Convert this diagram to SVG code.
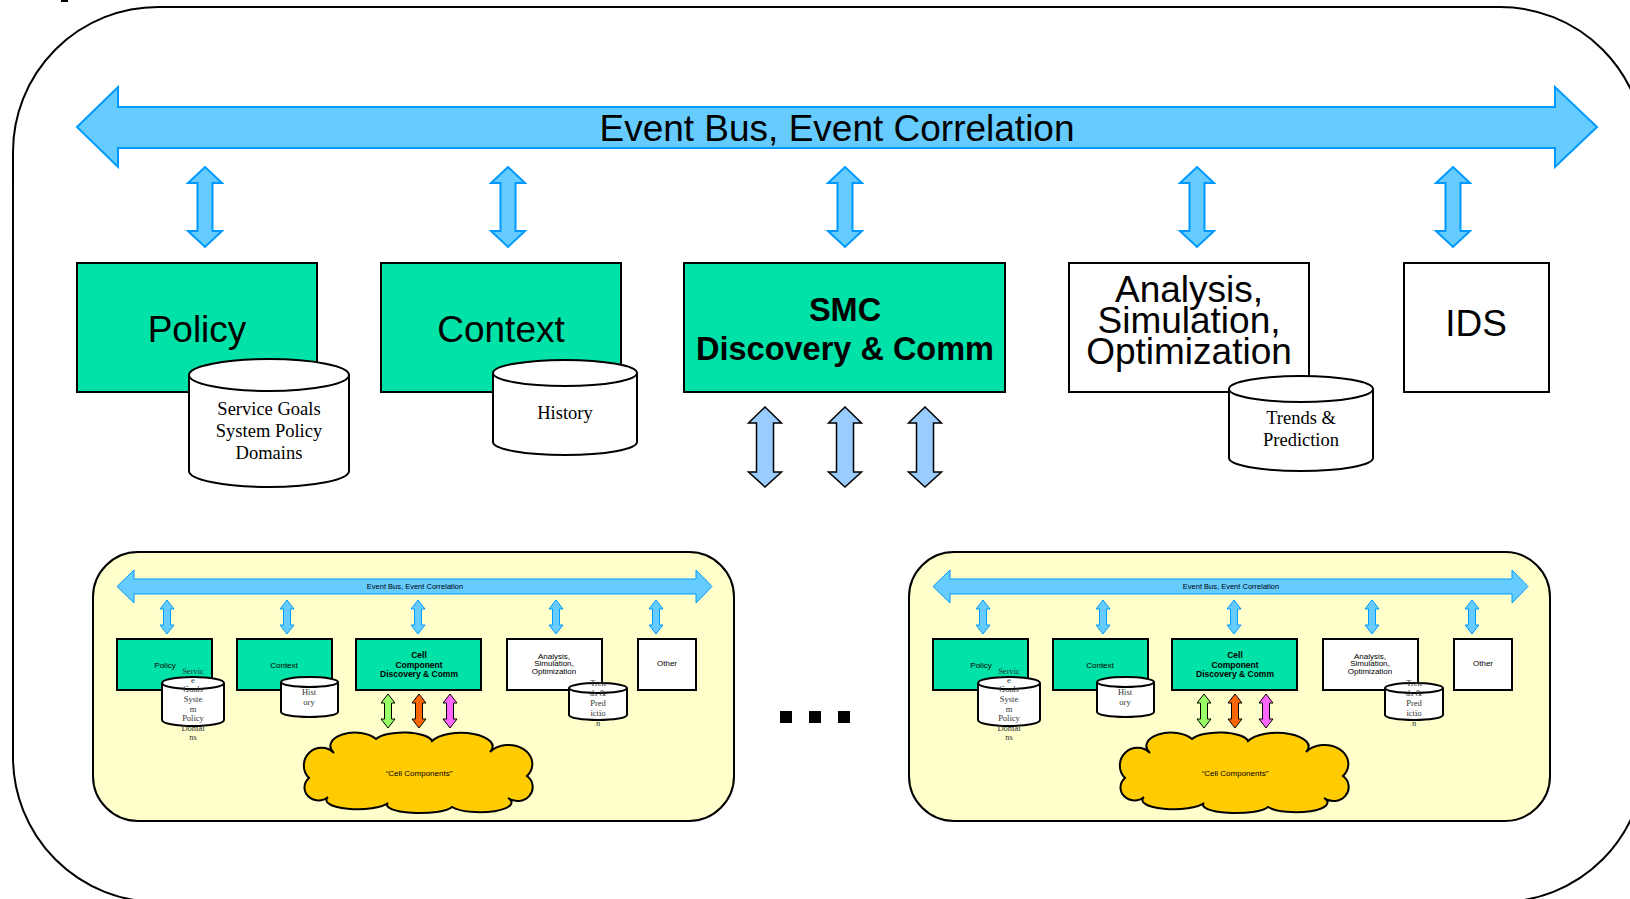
<svg xmlns="http://www.w3.org/2000/svg" xmlns:xlink="http://www.w3.org/1999/xlink" width="1630" height="899" viewBox="0 0 1630 899">
<style>
.outer{fill:#fff;stroke:#000;stroke-width:2}
.bus{fill:#66CCFF;stroke:#0099FF;stroke-width:2}
.busS{fill:#66CCFF;stroke:#0099FF;stroke-width:1}
.smc{fill:#99CCFF;stroke:#000;stroke-width:1.5}
.grn{fill:#00E2A8;stroke:#000;stroke-width:2}
.wht{fill:#fff;stroke:#000;stroke-width:2}
.cyl{fill:#fff;stroke:#000;stroke-width:2}
.panel{fill:#FFFFCC;stroke:#000;stroke-width:2}
.cloud{fill:#FFCC00;stroke:#000;stroke-width:2}
.sans{font-family:"Liberation Sans",Arial,sans-serif;text-anchor:middle;fill:#000}
.serif{font-family:"Liberation Serif","Times New Roman",serif;text-anchor:middle;fill:#000}
.big{font-size:37px}
.cylt{font-size:18.5px}
.sm{font-size:8px}
.smb{font-size:8.5px;font-weight:bold}
.sser{font-size:8.5px;fill:#333}
</style>
<defs>
<path id="va" d="M0,0 L17,16 L7.5,16 L7.5,64 L17,64 L0,80 L-17,64 L-7.5,64 L-7.5,16 L-17,16 Z"/>
<path id="vb" d="M0,0 L16.5,16 L8.5,16 L8.5,65 L16.5,65 L0,80 L-16.5,65 L-8.5,65 L-8.5,16 L-16.5,16 Z"/>
<path id="vs" d="M0,0 L7,9 L3.5,9 L3.5,25 L7,25 L0,34 L-7,25 L-3.5,25 L-3.5,9 L-7,9 Z"/>
</defs>

<rect x="61" y="0" width="7" height="2" fill="#000"/>
<rect id="frame" class="outer" x="13" y="7" width="1632" height="895" rx="145" ry="145"/>

<g id="event-bus">
<polygon class="bus" points="77,127 118,87 118,107 1555,107 1555,87 1597,127 1555,167 1555,148 118,148 118,167"/>
<text class="sans" x="837" y="141" font-size="37">Event Bus, Event Correlation</text>
</g>

<g id="connectors">
<use xlink:href="#va" class="bus" transform="translate(205,167)"/>
<use xlink:href="#va" class="bus" transform="translate(508,167)"/>
<use xlink:href="#va" class="bus" transform="translate(845,167)"/>
<use xlink:href="#va" class="bus" transform="translate(1197,167)"/>
<use xlink:href="#va" class="bus" transform="translate(1453,167)"/>
<use xlink:href="#vb" class="smc" transform="translate(765,407)"/>
<use xlink:href="#vb" class="smc" transform="translate(845,407)"/>
<use xlink:href="#vb" class="smc" transform="translate(925,407)"/>
</g>

<g id="policy">
<rect class="grn" x="77" y="263" width="240" height="129"/>
<text class="sans big" x="197" y="342">Policy</text>
<path class="cyl" d="M189,375 A80,16 0 0 1 349,375 L349,471 A80,16 0 0 1 189,471 Z"/>
<path class="cyl" d="M189,375 A80,16 0 0 0 349,375" fill="none"/>
<text class="serif cylt" x="269" y="415">Service Goals</text>
<text class="serif cylt" x="269" y="437">System Policy</text>
<text class="serif cylt" x="269" y="459">Domains</text>
</g>

<g id="context">
<rect class="grn" x="381" y="263" width="240" height="129"/>
<text class="sans big" x="501" y="342">Context</text>
<path class="cyl" d="M493,373 A72,13 0 0 1 637,373 L637,442 A72,13 0 0 1 493,442 Z"/>
<path class="cyl" d="M493,373 A72,13 0 0 0 637,373" fill="none"/>
<text class="serif cylt" x="565" y="419">History</text>
</g>

<g id="smc">
<rect class="grn" x="684" y="263" width="321" height="129"/>
<text class="sans" x="845" y="321" font-size="32.5" font-weight="bold">SMC</text>
<text class="sans" x="845" y="360" font-size="32.5" font-weight="bold">Discovery &amp; Comm</text>
</g>

<g id="analysis">
<rect class="wht" x="1069" y="263" width="240" height="129"/>
<text class="sans big" x="1189" y="302">Analysis,</text>
<text class="sans big" x="1189" y="333">Simulation,</text>
<text class="sans big" x="1189" y="364">Optimization</text>
<path class="cyl" d="M1229,389 A72,13 0 0 1 1373,389 L1373,458 A72,13 0 0 1 1229,458 Z"/>
<path class="cyl" d="M1229,389 A72,13 0 0 0 1373,389" fill="none"/>
<text class="serif cylt" x="1301" y="424">Trends &amp;</text>
<text class="serif cylt" x="1301" y="446">Prediction</text>
</g>

<g id="ids">
<rect class="wht" x="1404" y="263" width="145" height="129"/>
<text class="sans big" x="1476" y="336">IDS</text>
</g>

<g id="ellipsis">
<rect x="780" y="711" width="12" height="12" fill="#000"/>
<rect x="809" y="711" width="12" height="12" fill="#000"/>
<rect x="838" y="711" width="12" height="12" fill="#000"/>
</g>

<g id="cell-left">
<rect class="panel" x="93" y="552" width="641" height="269" rx="45" ry="45"/>
<g id="cell-left-bus">
<polygon class="busS" points="117,586.5 134,570 134,579 696,579 696,570 712,586.5 696,603 696,594 134,594 134,603"/>
<text class="sans" x="415" y="589" font-size="7.5">Event Bus, Event Correlation</text>
</g>
<g id="cell-left-links">
<use xlink:href="#vs" class="busS" transform="translate(167,600)"/>
<use xlink:href="#vs" class="busS" transform="translate(287,600)"/>
<use xlink:href="#vs" class="busS" transform="translate(418,600)"/>
<use xlink:href="#vs" class="busS" transform="translate(556,600)"/>
<use xlink:href="#vs" class="busS" transform="translate(656,600)"/>
<use xlink:href="#vs" fill="#99FF66" stroke="#000" stroke-width="1" transform="translate(388,694)"/>
<use xlink:href="#vs" fill="#FF6600" stroke="#000" stroke-width="1" transform="translate(419,694)"/>
<use xlink:href="#vs" fill="#FF66FF" stroke="#000" stroke-width="1" transform="translate(450,694)"/>
</g>
<g id="cell-left-policy">
<rect class="grn" x="117" y="639" width="95" height="51"/>
<text class="sans sm" x="165" y="668">Policy</text>
<path class="cyl" d="M162,683 A31,6 0 0 1 224,683 L224,720 A31,6 0 0 1 162,720 Z"/>
<path class="cyl" d="M162,683 A31,6 0 0 0 224,683" fill="none"/>
<text class="serif sser" x="193" y="674">Servic</text>
<text class="serif sser" x="193" y="683">e</text>
<text class="serif sser" x="193" y="692">Goals</text>
<text class="serif sser" x="193" y="702">Syste</text>
<text class="serif sser" x="193" y="712">m</text>
<text class="serif sser" x="193" y="721">Policy</text>
<text class="serif sser" x="193" y="731">Domai</text>
<text class="serif sser" x="193" y="740">ns</text>
</g>
<g id="cell-left-context">
<rect class="grn" x="237" y="639" width="95" height="51"/>
<text class="sans sm" x="284" y="668">Context</text>
<path class="cyl" d="M281,682 A28.5,5 0 0 1 338,682 L338,712 A28.5,5 0 0 1 281,712 Z"/>
<path class="cyl" d="M281,682 A28.5,5 0 0 0 338,682" fill="none"/>
<text class="serif sser" x="309" y="695">Hist</text>
<text class="serif sser" x="309" y="705">ory</text>
</g>
<g id="cell-left-comm">
<rect class="grn" x="356" y="639" width="125" height="51"/>
<text class="sans smb" x="419" y="658">Cell</text>
<text class="sans smb" x="419" y="668">Component</text>
<text class="sans smb" x="419" y="677">Discovery &amp; Comm</text>
</g>
<g id="cell-left-analysis">
<rect class="wht" x="507" y="639" width="95" height="51"/>
<text class="sans sm" x="554" y="659">Analysis,</text>
<text class="sans sm" x="554" y="666">Simulation,</text>
<text class="sans sm" x="554" y="674">Optimization</text>
<path class="cyl" d="M569,688 A29,5 0 0 1 627,688 L627,715 A29,5 0 0 1 569,715 Z"/>
<path class="cyl" d="M569,688 A29,5 0 0 0 627,688" fill="none"/>
<text class="serif sser" x="598" y="686">Tren</text>
<text class="serif sser" x="598" y="696">ds &amp;</text>
<text class="serif sser" x="598" y="706">Pred</text>
<text class="serif sser" x="598" y="716">ictio</text>
<text class="serif sser" x="598" y="726">n</text>
</g>
<g id="cell-left-other">
<rect class="wht" x="638" y="639" width="58" height="51"/>
<text class="sans sm" x="667" y="666">Other</text>
</g>
<g id="cell-left-cloud">
<path class="cloud" d="M334,753 A22,12 0 0 1 376,739 A29,10 0 0 1 432,741 A30,13 0 0 1 490,752 A20,16 0 0 1 527,776 A14,13 0 0 1 508,798 A29,9 0 0 1 452,807 A33,8 0 0 1 388,803 A31,9 0 0 1 328,797 A13,12 0 0 1 309,778 A16,16 0 0 1 334,753 Z"/>
<text class="sans sm" x="419" y="776">“Cell Components”</text>
</g>
</g>

<g id="cell-right" transform="translate(816,0)">
<rect class="panel" x="93" y="552" width="641" height="269" rx="45" ry="45"/>
<g id="cell-right-bus">
<polygon class="busS" points="117,586.5 134,570 134,579 696,579 696,570 712,586.5 696,603 696,594 134,594 134,603"/>
<text class="sans" x="415" y="589" font-size="7.5">Event Bus, Event Correlation</text>
</g>
<g id="cell-right-links">
<use xlink:href="#vs" class="busS" transform="translate(167,600)"/>
<use xlink:href="#vs" class="busS" transform="translate(287,600)"/>
<use xlink:href="#vs" class="busS" transform="translate(418,600)"/>
<use xlink:href="#vs" class="busS" transform="translate(556,600)"/>
<use xlink:href="#vs" class="busS" transform="translate(656,600)"/>
<use xlink:href="#vs" fill="#99FF66" stroke="#000" stroke-width="1" transform="translate(388,694)"/>
<use xlink:href="#vs" fill="#FF6600" stroke="#000" stroke-width="1" transform="translate(419,694)"/>
<use xlink:href="#vs" fill="#FF66FF" stroke="#000" stroke-width="1" transform="translate(450,694)"/>
</g>
<g id="cell-right-policy">
<rect class="grn" x="117" y="639" width="95" height="51"/>
<text class="sans sm" x="165" y="668">Policy</text>
<path class="cyl" d="M162,683 A31,6 0 0 1 224,683 L224,720 A31,6 0 0 1 162,720 Z"/>
<path class="cyl" d="M162,683 A31,6 0 0 0 224,683" fill="none"/>
<text class="serif sser" x="193" y="674">Servic</text>
<text class="serif sser" x="193" y="683">e</text>
<text class="serif sser" x="193" y="692">Goals</text>
<text class="serif sser" x="193" y="702">Syste</text>
<text class="serif sser" x="193" y="712">m</text>
<text class="serif sser" x="193" y="721">Policy</text>
<text class="serif sser" x="193" y="731">Domai</text>
<text class="serif sser" x="193" y="740">ns</text>
</g>
<g id="cell-right-context">
<rect class="grn" x="237" y="639" width="95" height="51"/>
<text class="sans sm" x="284" y="668">Context</text>
<path class="cyl" d="M281,682 A28.5,5 0 0 1 338,682 L338,712 A28.5,5 0 0 1 281,712 Z"/>
<path class="cyl" d="M281,682 A28.5,5 0 0 0 338,682" fill="none"/>
<text class="serif sser" x="309" y="695">Hist</text>
<text class="serif sser" x="309" y="705">ory</text>
</g>
<g id="cell-right-comm">
<rect class="grn" x="356" y="639" width="125" height="51"/>
<text class="sans smb" x="419" y="658">Cell</text>
<text class="sans smb" x="419" y="668">Component</text>
<text class="sans smb" x="419" y="677">Discovery &amp; Comm</text>
</g>
<g id="cell-right-analysis">
<rect class="wht" x="507" y="639" width="95" height="51"/>
<text class="sans sm" x="554" y="659">Analysis,</text>
<text class="sans sm" x="554" y="666">Simulation,</text>
<text class="sans sm" x="554" y="674">Optimization</text>
<path class="cyl" d="M569,688 A29,5 0 0 1 627,688 L627,715 A29,5 0 0 1 569,715 Z"/>
<path class="cyl" d="M569,688 A29,5 0 0 0 627,688" fill="none"/>
<text class="serif sser" x="598" y="686">Tren</text>
<text class="serif sser" x="598" y="696">ds &amp;</text>
<text class="serif sser" x="598" y="706">Pred</text>
<text class="serif sser" x="598" y="716">ictio</text>
<text class="serif sser" x="598" y="726">n</text>
</g>
<g id="cell-right-other">
<rect class="wht" x="638" y="639" width="58" height="51"/>
<text class="sans sm" x="667" y="666">Other</text>
</g>
<g id="cell-right-cloud">
<path class="cloud" d="M334,753 A22,12 0 0 1 376,739 A29,10 0 0 1 432,741 A30,13 0 0 1 490,752 A20,16 0 0 1 527,776 A14,13 0 0 1 508,798 A29,9 0 0 1 452,807 A33,8 0 0 1 388,803 A31,9 0 0 1 328,797 A13,12 0 0 1 309,778 A16,16 0 0 1 334,753 Z"/>
<text class="sans sm" x="419" y="776">“Cell Components”</text>
</g>
</g>
</svg>
